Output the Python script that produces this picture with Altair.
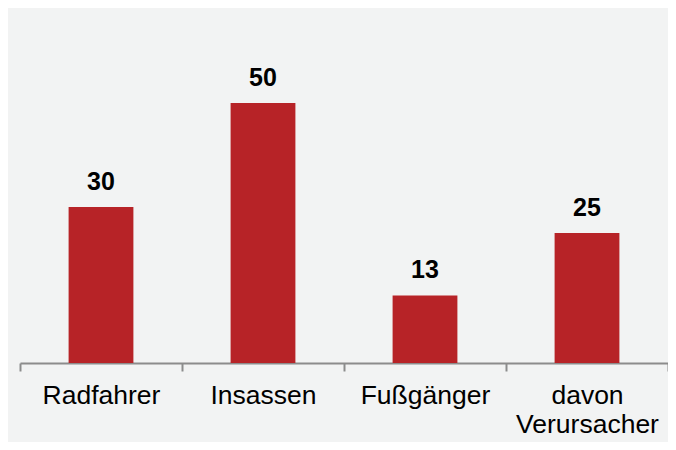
import altair as alt
import pandas as pd

categories = ["Radfahrer", "Insassen", "Fußgänger", "davon Verursacher"]
values = [30, 50, 13, 25]

df = pd.DataFrame({"cat": categories, "val": values})

FONT = "Liberation Sans, Arial, sans-serif"
RED = "#b72327"
AXIS_GRAY = "#8c8c8c"

x = alt.X(
    "cat:N",
    sort=categories,
    title=None,
    scale=alt.Scale(paddingInner=0, paddingOuter=0),
    axis=alt.Axis(
        domainColor=AXIS_GRAY,
        domainWidth=2,
        tickColor=AXIS_GRAY,
        tickWidth=2,
        tickSize=8,
        tickBand="extent",
        labelAngle=0,
        labelFont=FONT,
        labelFontSize=26.5,
        labelColor="#000000",
        labelPadding=11,
        labelLineHeight=29,
        labelExpr="datum.value == 'davon Verursacher' ? ['davon', 'Verursacher'] : datum.label",
    ),
)
y = alt.Y("val:Q", scale=alt.Scale(domain=[0, 65]), axis=None)

bars = alt.Chart(df).mark_bar(color=RED, width=alt.RelativeBandSize(0.4)).encode(x=x, y=y)
labels = alt.Chart(df).mark_text(
    font=FONT, fontSize=25, fontWeight="bold", color="#000000",
    baseline="alphabetic", dy=-17,
).encode(x=alt.X("cat:N", sort=categories), y="val:Q", text="val:Q")

chart = (
    alt.layer(bars, labels)
    .properties(
        width=648,
        height=338,
        autosize=alt.AutoSizeParams(type="none"),
        padding={"left": 12, "top": 17, "right": 0, "bottom": 79},
        background="#f2f3f3",
    )
    .configure_view(stroke=None)
)

chart.save("out.html", embed_options={"renderer": "svg", "actions": False})
